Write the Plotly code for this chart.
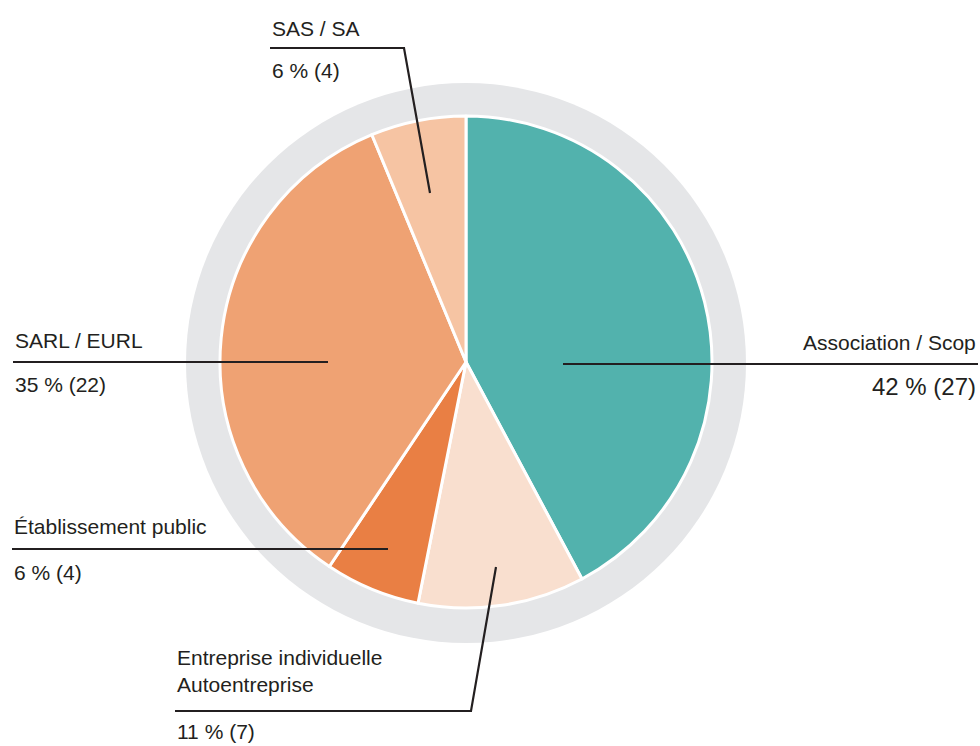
import plotly.graph_objects as go

# ---- data ----
categories = ["Association / Scop", "Entreprise individuelle<br>Autoentreprise",
              "Établissement public", "SARL / EURL", "SAS / SA"]
counts = [27, 7, 4, 22, 4]
pct_labels = ["42 % (27)", "11 % (7)", "6 % (4)", "35 % (22)", "6 % (4)"]
colors = ["#52b2ad", "#f9dfcf", "#e97f44", "#efa273", "#f6c4a3"]

W, H = 980, 746
CX, CY = 466, 362
R_PIE, R_RING = 246, 280

def px(x):
    return x / W

def py(y):
    return 1 - y / H

fig = go.Figure()

# grey ring behind the pie
fig.add_trace(go.Pie(
    values=[1], marker=dict(colors=["#e5e6e8"], line=dict(width=0)),
    textinfo="none", hoverinfo="skip", sort=False, showlegend=False,
    domain=dict(x=[px(CX - R_RING), px(CX + R_RING)],
                y=[py(CY + 1 + R_RING), py(CY + 1 - R_RING)]),
))

fig.add_trace(go.Pie(
    labels=categories, values=counts, sort=False, direction="clockwise", rotation=0,
    marker=dict(colors=colors, line=dict(color="white", width=3)),
    textinfo="none", hoverinfo="skip", showlegend=False,
    domain=dict(x=[px(CX - R_PIE), px(CX + R_PIE)],
                y=[py(CY + R_PIE), py(CY - R_PIE)]),
))

LINE = "#231f20"
FONT = "Liberation Sans, Arial, sans-serif"

# leader lines (layout decoration), pixel paths
leaders = [
    [(563, 364), (978, 364)],                 # Association
    [(496, 567), (471, 711), (175, 711)],     # Entreprise
    [(388, 549), (12, 549)],                  # Etablissement
    [(328, 362), (13, 362)],                  # SARL
    [(430, 193), (404, 48), (270, 48)],       # SAS
]
for pts in leaders:
    path = "M " + " L ".join(f"{px(x)},{py(y)}" for x, y in pts)
    fig.add_shape(type="path", path=path, xref="paper", yref="paper",
                  line=dict(color=LINE, width=2.2))

# label placements: (x, y_name, y_pct, xanchor)
place = [
    (978, 342, 386, "right"),
    (175, 671, 731, "left"),
    (12, 526, 572, "left"),
    (13, 340, 384, "left"),
    (270, 28, 71, "left"),
]
for i, (x, yn, yp, xa) in enumerate(place):
    fig.add_annotation(x=px(x), y=py(yn), xref="paper", yref="paper",
                       text=categories[i], showarrow=False, xanchor=xa, yanchor="middle",
                       align=xa, font=dict(family=FONT, size=21, color=LINE))
    fig.add_annotation(x=px(x), y=py(yp), xref="paper", yref="paper",
                       text=pct_labels[i], showarrow=False, xanchor=xa, yanchor="middle",
                       font=dict(family=FONT, size=24 if i == 0 else 21, color=LINE))

fig.update_layout(width=W, height=H, margin=dict(l=0, r=0, t=0, b=0),
                  paper_bgcolor="white", plot_bgcolor="white")

fig.write_html("out.html", config={"displayModeBar": False},
               post_script="document.body.style.margin='0';document.body.style.overflow='hidden';")
